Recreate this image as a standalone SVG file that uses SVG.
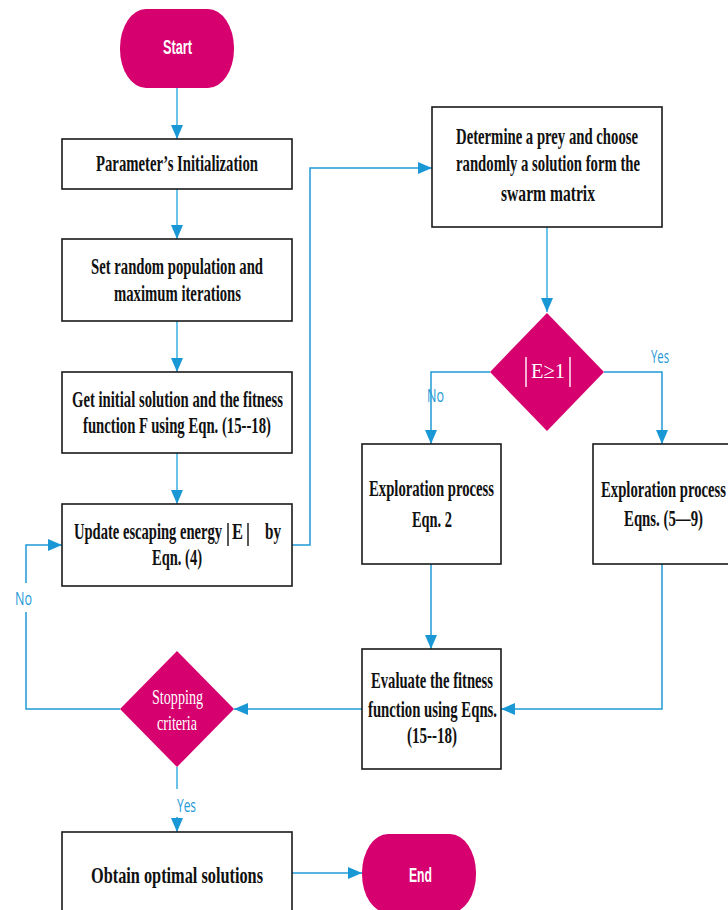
<svg xmlns="http://www.w3.org/2000/svg" width="728" height="910" viewBox="0 0 728 910">
<style>
.box{fill:#fff;stroke:#1a1a1a;stroke-width:1.6}
.term{fill:#d6006e}
.dia{fill:#d6006e}
.t{font-family:"Liberation Serif","Times New Roman",serif;font-weight:bold;font-size:23px;fill:#111}
.tw{font-family:"Liberation Serif","Times New Roman",serif;font-size:22px;fill:#fff}
.ts{font-family:"Liberation Sans",Arial,sans-serif;font-weight:bold;font-size:21px;fill:#fff}
.lb{font-family:"Open Sans","Liberation Sans",sans-serif;font-size:18px;fill:#1f9ad6}
.c{fill:none;stroke:#1f9ad6;stroke-width:1.5}
.cl{fill:none;stroke:#6cc3ea;stroke-width:2}
.bar{stroke:#111;stroke-width:1.4}
.barw{stroke:#fff;stroke-width:1.4}
</style>
<defs>
<marker id="ah" markerUnits="userSpaceOnUse" markerWidth="14" markerHeight="12" refX="14" refY="6" orient="auto">
<path d="M0,0 L14,6 L0,12 z" fill="#1a98d5"/>
</marker>
</defs>
<rect width="728" height="910" fill="#fff"/>
<g id="connectors">
<path class="cl" d="M177,88 V139" marker-end="url(#ah)"/>
<path class="cl" d="M177,189 V239" marker-end="url(#ah)"/>
<path class="cl" d="M177,321 V372" marker-end="url(#ah)"/>
<path class="cl" d="M177,453 V504" marker-end="url(#ah)"/>
<path class="c" d="M292,545 H310 V168 H432" marker-end="url(#ah)"/>
<path class="cl" d="M547,227 V312" marker-end="url(#ah)"/>
<path class="c" d="M490,372 H431 V444" marker-end="url(#ah)"/>
<path class="c" d="M604,372 H662 V444" marker-end="url(#ah)"/>
<path class="c" d="M431,564 V649" marker-end="url(#ah)"/>
<path class="c" d="M662,564 V709 H501" marker-end="url(#ah)"/>
<path class="c" d="M362,709 H234" marker-end="url(#ah)"/>
<path class="c" d="M120,709 H26 V612"/>
<path class="c" d="M26,583 V545 H62" marker-end="url(#ah)"/>
<path class="cl" d="M177,767 V789"/>
<path class="c" d="M177,817 V832" marker-end="url(#ah)"/>
<path class="c" d="M292,873 H362" marker-end="url(#ah)"/>
<text class="lb" x="15" y="605" textLength="17" lengthAdjust="spacingAndGlyphs">No</text>
<text class="lb" x="177" y="812" textLength="19" lengthAdjust="spacingAndGlyphs">Yes</text>
<text class="lb" x="427" y="402" textLength="17" lengthAdjust="spacingAndGlyphs">No</text>
<text class="lb" x="651" y="363" textLength="18" lengthAdjust="spacingAndGlyphs">Yes</text>
</g>
<g id="start">
<rect class="term" x="120" y="9" width="114" height="79" rx="26" ry="39"/>
<text class="ts" x="163" y="54" textLength="29" lengthAdjust="spacingAndGlyphs">Start</text>
</g>
<g id="param">
<rect class="box" x="62" y="139" width="230" height="50"/>
<text class="t" x="96" y="171" textLength="162" lengthAdjust="spacingAndGlyphs">Parameter’s Initialization</text>
</g>
<g id="setpop">
<rect class="box" x="62" y="239" width="230" height="82"/>
<text class="t" x="91" y="274" textLength="172" lengthAdjust="spacingAndGlyphs">Set random population and</text>
<text class="t" x="114" y="301" textLength="127" lengthAdjust="spacingAndGlyphs">maximum iterations</text>
</g>
<g id="getinit">
<rect class="box" x="62" y="372" width="230" height="81"/>
<text class="t" x="72" y="407" textLength="211" lengthAdjust="spacingAndGlyphs">Get initial solution and the fitness</text>
<text class="t" x="83" y="433" textLength="188" lengthAdjust="spacingAndGlyphs">function F using Eqn. (15--18)</text>
</g>
<g id="update">
<rect class="box" x="62" y="504" width="230" height="82"/>
<text class="t" x="74" y="539"><tspan x="74" textLength="148" lengthAdjust="spacingAndGlyphs">Update escaping energy</tspan><tspan x="232" textLength="11" lengthAdjust="spacingAndGlyphs">E</tspan><tspan x="265" textLength="16" lengthAdjust="spacingAndGlyphs">by</tspan></text>
<line class="bar" x1="228" y1="523" x2="228" y2="546"/>
<line class="bar" x1="248" y1="523" x2="248" y2="546"/>
<text class="t" x="152" y="565" textLength="50" lengthAdjust="spacingAndGlyphs">Eqn. (4)</text>
</g>
<g id="determine">
<rect class="box" x="432" y="107" width="230" height="120"/>
<text class="t" x="456" y="144" textLength="182" lengthAdjust="spacingAndGlyphs">Determine a prey and choose</text>
<text class="t" x="456" y="171" textLength="184" lengthAdjust="spacingAndGlyphs">randomly a solution form the</text>
<text class="t" x="501" y="201" textLength="94" lengthAdjust="spacingAndGlyphs">swarm matrix</text>
</g>
<g id="decisionE">
<polygon class="dia" points="547,313 604,372 547,431 490,372"/>
<line class="barw" x1="526" y1="357" x2="526" y2="387"/>
<text class="tw" x="531" y="378" font-size="24" textLength="34" lengthAdjust="spacingAndGlyphs">E≥1</text>
<line class="barw" x1="570" y1="357" x2="570" y2="387"/>
</g>
<g id="explore1">
<rect class="box" x="362" y="444" width="139" height="120"/>
<text class="t" x="369" y="496" textLength="125" lengthAdjust="spacingAndGlyphs">Exploration process</text>
<text class="t" x="412" y="527" textLength="40" lengthAdjust="spacingAndGlyphs">Eqn. 2</text>
</g>
<g id="explore2">
<rect class="box" x="593" y="444" width="140" height="120"/>
<text class="t" x="601" y="497" textLength="125" lengthAdjust="spacingAndGlyphs">Exploration process</text>
<text class="t" x="624" y="526" textLength="79" lengthAdjust="spacingAndGlyphs">Eqns. (5—9)</text>
</g>
<g id="evaluate">
<rect class="box" x="362" y="649" width="139" height="120"/>
<text class="t" x="371" y="688" textLength="122" lengthAdjust="spacingAndGlyphs">Evaluate the fitness</text>
<text class="t" x="368" y="717" textLength="129" lengthAdjust="spacingAndGlyphs">function using Eqns.</text>
<text class="t" x="407" y="743" textLength="50" lengthAdjust="spacingAndGlyphs">(15--18)</text>
</g>
<g id="stopping">
<polygon class="dia" points="177,651 234,709 177,767 120,709"/>
<text class="tw" x="152" y="704" textLength="51" lengthAdjust="spacingAndGlyphs">Stopping</text>
<text class="tw" x="157" y="730" textLength="40" lengthAdjust="spacingAndGlyphs">criteria</text>
</g>
<g id="obtain">
<rect class="box" x="62" y="832" width="230" height="82"/>
<text class="t" x="91" y="883" textLength="172" lengthAdjust="spacingAndGlyphs">Obtain optimal solutions</text>
</g>
<g id="end">
<rect class="term" x="362" y="834" width="114" height="79" rx="26" ry="39"/>
<text class="ts" x="409" y="882" textLength="23" lengthAdjust="spacingAndGlyphs">End</text>
</g>
</svg>
